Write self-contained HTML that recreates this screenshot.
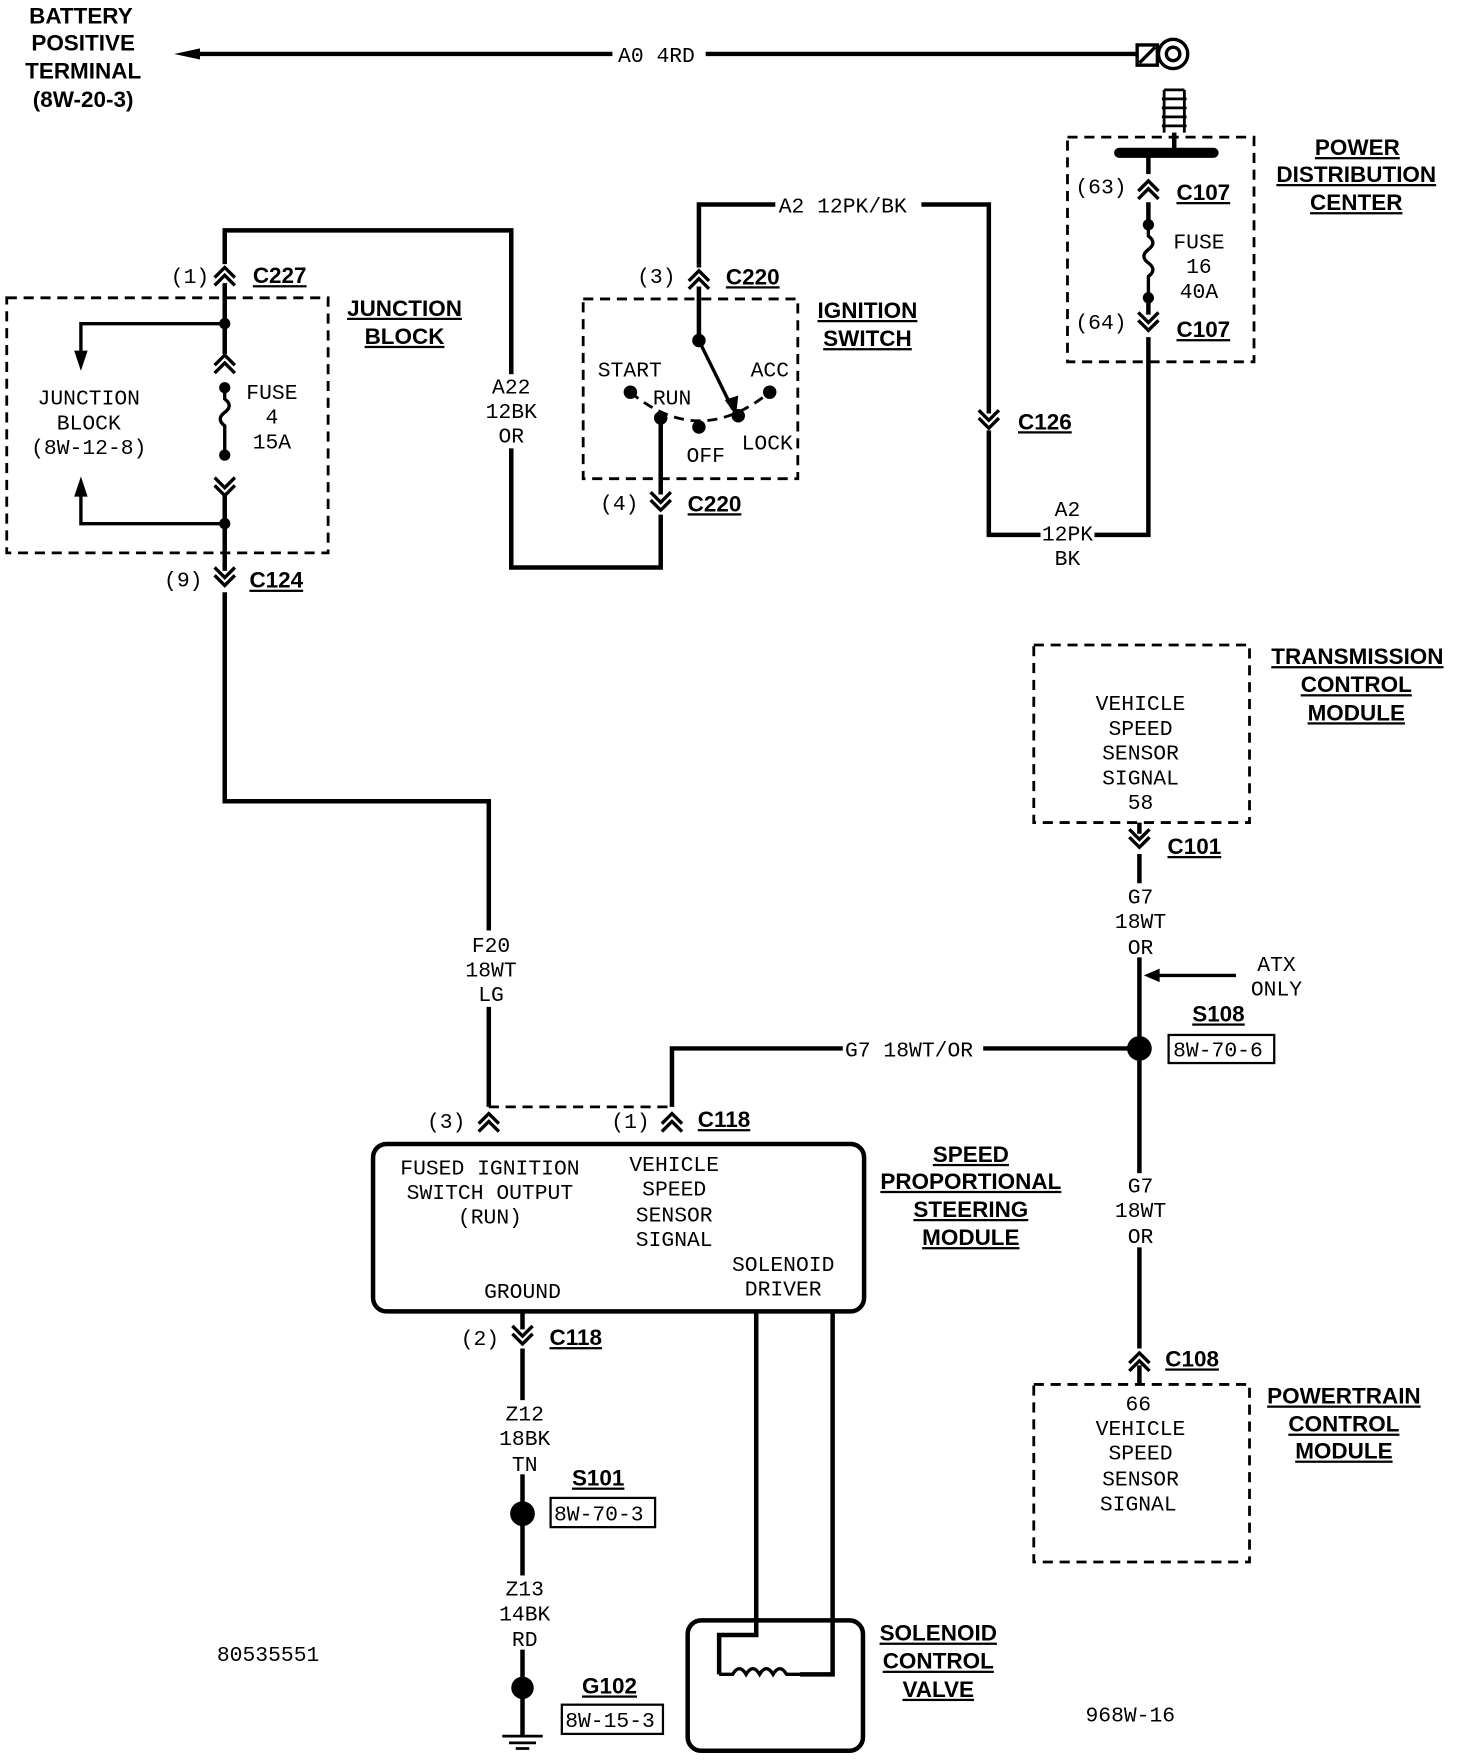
<!DOCTYPE html>
<html><head><meta charset="utf-8"><style>
html,body{margin:0;padding:0;background:#fff}
svg{display:block}
.t{font-family:"Liberation Mono",monospace;font-size:19px;fill:#000}
.b{font-family:"Liberation Sans",sans-serif;font-weight:bold;font-size:20px;fill:#000;text-decoration:underline}
.h{font-family:"Liberation Sans",sans-serif;font-weight:bold;font-size:20px;fill:#000}
</style></head><body>
<svg width="1472" height="1762" viewBox="0 0 1310 1568" preserveAspectRatio="none" xmlns="http://www.w3.org/2000/svg">
<defs>
<g id="cu"><path d="M-9 5 L0 -4 L9 5 M-9 12 L0 3 L9 12" fill="none" stroke="#000" stroke-width="3"/></g>
<g id="cd"><path d="M-9 -5 L0 4 L9 -5 M-9 -12 L0 -3 L9 -12" fill="none" stroke="#000" stroke-width="3"/></g>
</defs>
<g fill="none" stroke="#000" stroke-width="4">
<path d="M175 48 H545 M628 48 H1012"/>
<path d="M1012 40 H1030 V58 H1012 Z M1014 56 L1028 42" stroke-width="3"/>
<circle cx="1044" cy="48" r="13" stroke-width="3"/>
<circle cx="1044" cy="48" r="6" stroke-width="3"/>
<path d="M1036 80 H1054 M1034 88 H1056 M1034 96 H1056 M1034 104 H1056 M1034 112 H1056 M1036 80 V118 M1054 80 V118" stroke-width="2.5"/>
<path d="M1045 118 V136"/>
<path d="M996 136 H1080" stroke-width="9" stroke-linecap="round"/>
<path d="M1022 136 V155 M1022 180 V200 M1022 265 V280 M1022 300 V476 H880 V383 M880 368 V182 H820 M690 182 H622 V238 M622 255 V303"/>
<path d="M1022 200 V210 Q1030 216 1022 222 Q1014 228 1022 234 Q1030 240 1022 246 V265" stroke-width="3"/>
<path d="M622 303 L652 364" stroke-width="3"/>
<path d="M588 372 V440 M588 458 V505 H455 V205 H200 V235 M200 252 V315 M200 440 V508 M200 527 V713 H435 V985"/>
<path d="M200 345 V355 Q208 361 200 367 Q192 373 200 379 V405" stroke-width="3"/>
<path d="M200 288 H72 V318 M200 466 H72 V436" stroke-width="3"/>
<path d="M598 985 V933 H750 M875 933 H1014 M1014 732 V742 M1014 760 V1200 M1014 1215 V1232"/>
<path d="M465 1167 V1183 M465 1200 V1545"/>
<path d="M673 1167 V1455 H640 V1490 M741 1167 V1490 H712" stroke-width="4"/>
<path d="M1100 868 H1024" stroke-width="3"/>
</g>
<g fill="#fff">
<rect x="435" y="333" width="40" height="66"/>
<rect x="926" y="464" width="48" height="22"/>
<rect x="415" y="828" width="42" height="68"/>
<rect x="990" y="786" width="48" height="66"/>
<rect x="990" y="1044" width="48" height="66"/>
<rect x="443" y="1246" width="46" height="66"/>
<rect x="443" y="1402" width="46" height="66"/>
</g>
<polygon points="1018,868 1032,862 1032,874"/>
<polygon points="155,48 178,43 178,53"/>
<polygon points="72,330 66,312 78,312"/>
<polygon points="72,424 66,442 78,442"/>
<polygon points="655,370 645,356 657,352"/>
<g fill="none" stroke="#000" stroke-width="2.5" stroke-dasharray="9,6">
<rect x="950" y="122" width="166" height="200"/>
<rect x="6" y="265" width="286" height="227"/>
<rect x="519" y="266" width="191" height="160"/>
<rect x="920" y="574" width="192" height="158"/>
<rect x="920" y="1232" width="192" height="158"/>
<path d="M435 985 H598"/>
<path d="M561 349 Q622 400 685 349"/>
</g>
<use href="#cu" x="1022" y="165"/><use href="#cd" x="1022" y="290"/>
<use href="#cd" x="880" y="377"/>
<use href="#cu" x="622" y="245"/><use href="#cd" x="588" y="450"/>
<use href="#cu" x="200" y="242"/><use href="#cu" x="200" y="320"/><use href="#cd" x="200" y="437"/>
<use href="#cd" x="200" y="517"/>
<use href="#cu" x="435" y="995"/><use href="#cu" x="598" y="995"/>
<use href="#cd" x="1014" y="750"/><use href="#cu" x="1014" y="1208"/>
<use href="#cd" x="465" y="1192"/>
<g>
<circle cx="1022" cy="200" r="5"/><circle cx="1022" cy="265" r="5"/>
<circle cx="622" cy="303" r="6"/><circle cx="561" cy="349" r="6"/><circle cx="588" cy="372" r="6"/>
<circle cx="622" cy="380" r="6"/><circle cx="657" cy="370" r="6"/><circle cx="685" cy="349" r="6"/>
<circle cx="200" cy="288" r="5"/><circle cx="200" cy="466" r="5"/>
<circle cx="200" cy="345" r="5"/><circle cx="200" cy="405" r="5"/>
<circle cx="1014" cy="933" r="11"/><circle cx="465" cy="1347" r="11"/><circle cx="465" cy="1502" r="10"/>
</g>
<rect x="332" y="1018" width="437" height="149" rx="12" fill="none" stroke="#000" stroke-width="4"/>
<rect x="612" y="1442" width="156" height="116" rx="12" fill="none" stroke="#000" stroke-width="4"/>
<path d="M640 1490 H652 q6 -10 12 0 q6 -10 12 0 q6 -10 12 0 q6 -10 12 0 H712" fill="none" stroke="#000" stroke-width="3"/>
<g fill="none" stroke="#000" stroke-width="2">
<rect x="1040" y="921" width="94" height="25"/><rect x="490" y="1333" width="93" height="26"/><rect x="500" y="1517" width="90" height="26"/>
</g>
<path d="M447 1545 H483 M453 1551 H477 M459 1556 H471" stroke="#000" stroke-width="2.5"/>
<g class="h" text-anchor="middle">
<text x="72" y="21">BATTERY</text><text x="74" y="45">POSITIVE</text><text x="74" y="70">TERMINAL</text><text x="74" y="95">(8W-20-3)</text>
</g>
<g class="b" text-anchor="middle">
<text x="1208" y="138">POWER</text><text x="1207" y="162">DISTRIBUTION</text><text x="1207" y="187">CENTER</text>
<text x="360" y="281">JUNCTION</text><text x="360" y="306">BLOCK</text>
<text x="772" y="283">IGNITION</text><text x="772" y="308">SWITCH</text>
<text x="1208" y="591">TRANSMISSION</text><text x="1207" y="616">CONTROL</text><text x="1207" y="641">MODULE</text>
<text x="864" y="1034">SPEED</text><text x="864" y="1058">PROPORTIONAL</text><text x="864" y="1083">STEERING</text><text x="864" y="1108">MODULE</text>
<text x="1196" y="1249">POWERTRAIN</text><text x="1196" y="1274">CONTROL</text><text x="1196" y="1298">MODULE</text>
<text x="835" y="1460">SOLENOID</text><text x="835" y="1485">CONTROL</text><text x="835" y="1510">VALVE</text>
</g>
<g class="b">
<text x="1047" y="178">C107</text><text x="1047" y="300">C107</text><text x="906" y="382">C126</text>
<text x="646" y="253">C220</text><text x="612" y="455">C220</text><text x="225" y="252">C227</text><text x="222" y="523">C124</text>
<text x="621" y="1003">C118</text><text x="1039" y="760">C101</text><text x="1061" y="909">S108</text><text x="1037" y="1216">C108</text>
<text x="489" y="1197">C118</text><text x="509" y="1322">S101</text><text x="518" y="1507">G102</text>
</g>
<g class="t">
<text x="550" y="55">A0 4RD</text><text x="693" y="189">A2 12PK/BK</text><text x="752" y="940">G7 18WT/OR</text>
<text x="957" y="172">(63)</text><text x="957" y="293">(64)</text>
<text x="567" y="252">(3)</text><text x="534" y="454">(4)</text><text x="152" y="252">(1)</text><text x="146" y="522">(9)</text>
<text x="380" y="1004">(3)</text><text x="544" y="1004">(1)</text><text x="410" y="1197">(2)</text>
<text x="532" y="335">START</text><text x="581" y="360">RUN</text><text x="668" y="335">ACC</text><text x="611" y="411">OFF</text><text x="660" y="400">LOCK</text>
<text x="193" y="1478">80535551</text><text x="966" y="1532">968W-16</text>
<text x="1044" y="940">8W-70-6</text><text x="493" y="1353">8W-70-3</text><text x="503" y="1537">8W-15-3</text>
</g>
<g class="t" text-anchor="middle">
<text x="1067" y="221">FUSE</text><text x="1067" y="243">16</text><text x="1067" y="265">40A</text>
<text x="242" y="355">FUSE</text><text x="242" y="377">4</text><text x="242" y="399">15A</text>
<text x="79" y="360">JUNCTION</text><text x="79" y="382">BLOCK</text><text x="79" y="404">(8W-12-8)</text>
<text x="455" y="350">A22</text><text x="455" y="372">12BK</text><text x="455" y="394">OR</text>
<text x="950" y="459">A2</text><text x="950" y="481">12PK</text><text x="950" y="503">BK</text>
<text x="1015" y="632">VEHICLE</text><text x="1015" y="654">SPEED</text><text x="1015" y="676">SENSOR</text><text x="1015" y="698">SIGNAL</text><text x="1015" y="720">58</text>
<text x="1015" y="804">G7</text><text x="1015" y="826">18WT</text><text x="1015" y="849">OR</text>
<text x="1136" y="864">ATX</text><text x="1136" y="886">ONLY</text>
<text x="437" y="847">F20</text><text x="437" y="869">18WT</text><text x="437" y="891">LG</text>
<text x="436" y="1045">FUSED IGNITION</text><text x="436" y="1067">SWITCH OUTPUT</text><text x="436" y="1089">(RUN)</text>
<text x="600" y="1042">VEHICLE</text><text x="600" y="1064">SPEED</text><text x="600" y="1087">SENSOR</text><text x="600" y="1109">SIGNAL</text>
<text x="697" y="1131">SOLENOID</text><text x="697" y="1153">DRIVER</text><text x="465" y="1155">GROUND</text>
<text x="1015" y="1061">G7</text><text x="1015" y="1083">18WT</text><text x="1015" y="1106">OR</text>
<text x="1013" y="1255">66</text><text x="1015" y="1277">VEHICLE</text><text x="1015" y="1299">SPEED</text><text x="1015" y="1322">SENSOR</text><text x="1013" y="1344">SIGNAL</text>
<text x="467" y="1264">Z12</text><text x="467" y="1286">18BK</text><text x="467" y="1309">TN</text>
<text x="467" y="1420">Z13</text><text x="467" y="1442">14BK</text><text x="467" y="1465">RD</text>
</g>
</svg>
</body></html>
